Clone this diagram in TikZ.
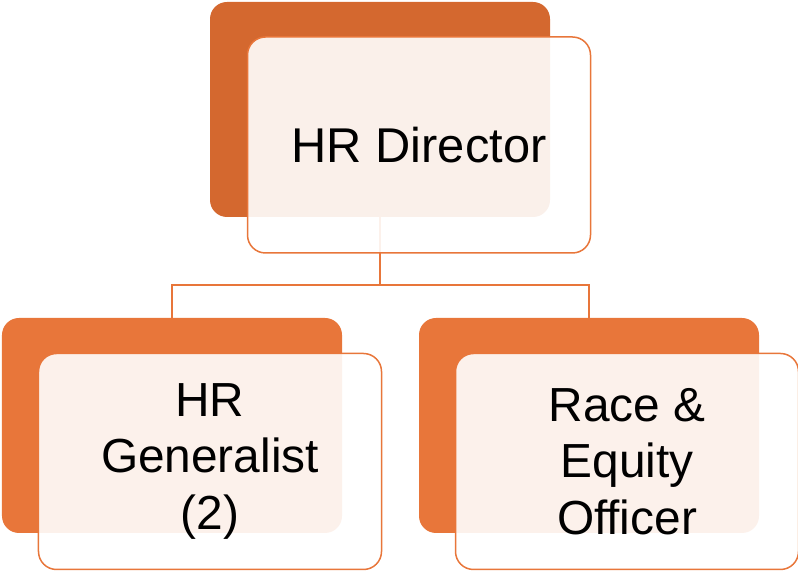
\documentclass[tikz,border=0pt]{standalone}
\usepackage{fontspec}
\setmainfont{Liberation Sans}
\definecolor{rust}{RGB}{212,104,47}
\definecolor{tangerine}{RGB}{232,118,58}

\begin{document}
\begin{tikzpicture}[x=1bp, y=1bp,
        back/.style={rounded corners=17bp, minimum width=340bp, minimum height=215bp, inner sep=0pt},
        front/.style={draw=tangerine, line width=1.5bp, fill=white, fill opacity=0.9, text opacity=1,
            rounded corners=18bp, minimum width=343bp, minimum height=216bp, inner sep=0pt, align=center},
        link/.style={draw=tangerine, line width=1.5bp}]
        \useasboundingbox (0, 0) rectangle (798, 571);

        \node[back, fill=rust] (dirback) at (380, 461.5) {};
        \node[back, fill=tangerine] (genback) at (172, 145.5) {};
        \node[back, fill=tangerine] (raceback) at (589, 145.5) {};

        \coordinate (split) at (380, 286);
        \draw[link] (dirback.south) -- (split) -| (genback.north);
        \draw[link] (split) -| (raceback.north);

        \node[front, font=\fontsize{49}{60}\selectfont] (dir) at (419, 426) {HR Director};
        \node[front, font=\fontsize{48}{57}\selectfont] (gen) at (210, 109.5) {HR\\Generalist\\(2)};
        \node[front, font=\fontsize{48}{57}\selectfont] (race) at (627, 109.5) {Race \&\\Equity\\Officer};
\end{tikzpicture}
\end{document}
